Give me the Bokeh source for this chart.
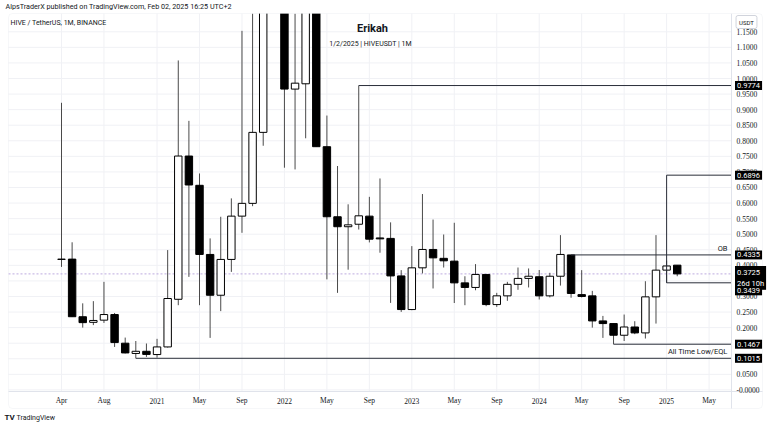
from bokeh.plotting import figure
from bokeh.models import Range1d, Label, LabelSet, BoxAnnotation, ColumnDataSource
from bokeh.embed import file_html
from bokeh.resources import INLINE

# ---------------- data (monthly candles, HIVE/USDT, Binance) ----------------
months = [
    "2020-04", "2020-05", "2020-06", "2020-07", "2020-08", "2020-09", "2020-10", "2020-11", "2020-12",
    "2021-01", "2021-02", "2021-03", "2021-04", "2021-05", "2021-06", "2021-07", "2021-08", "2021-09",
    "2021-10", "2021-11", "2021-12",
    "2022-01", "2022-02", "2022-03", "2022-04", "2022-05", "2022-06", "2022-07", "2022-08", "2022-09",
    "2022-10", "2022-11", "2022-12",
    "2023-01", "2023-02", "2023-03", "2023-04", "2023-05", "2023-06", "2023-07", "2023-08", "2023-09",
    "2023-10", "2023-11", "2023-12",
    "2024-01", "2024-02", "2024-03", "2024-04", "2024-05", "2024-06", "2024-07", "2024-08", "2024-09",
    "2024-10", "2024-11", "2024-12",
    "2025-01", "2025-02",
]
opens = [0.419, 0.420, 0.235, 0.217, 0.224, 0.242, 0.150, 0.117, 0.124,
         0.1135, 0.138, 0.291, 0.751, 0.657, 0.435, 0.304, 0.419, 0.558,
         0.599, 0.827, 1.95,
         1.75, 0.966, 0.983, 1.35, 0.781, 0.556, 0.524, 0.532, 0.558,
         0.488, 0.4865, 0.366,
         0.258, 0.392, 0.451, 0.4225, 0.4135, 0.3437, 0.329, 0.3707, 0.274,
         0.302, 0.339, 0.358,
         0.3634, 0.302, 0.365, 0.4335, 0.306, 0.302, 0.2215, 0.213, 0.1755,
         0.202, 0.183, 0.2988,
         0.3846, 0.4006]
highs = [0.922, 0.474, 0.278, 0.285, 0.347, 0.247, 0.168, 0.157, 0.149,
         0.164, 0.449, 1.058, 0.864, 0.695, 0.4865, 0.556, 0.615, 1.153,
         1.30, 3.40, 2.30,
         1.85, 1.30, 1.60, 1.50, 0.881, 0.719, 0.596, 0.9774, 0.620,
         0.679, 0.538, 0.3846,
         0.4617, 0.629, 0.547, 0.499, 0.5367, 0.365, 0.404, 0.372, 0.3116,
         0.347, 0.393, 0.390,
         0.385, 0.376, 0.497, 0.4335, 0.3846, 0.318, 0.2376, 0.213, 0.242,
         0.2206, 0.349, 0.497,
         0.415, 0.4006]
lows = [0.395, 0.234, 0.200, 0.208, 0.215, 0.138, 0.117, 0.1015, 0.106,
        0.1036, 0.136, 0.272, 0.363, 0.272, 0.167, 0.253, 0.379, 0.5045,
        0.590, 0.784, 1.35,
        0.7135, 0.708, 0.808, 0.781, 0.355, 0.3116, 0.386, 0.515, 0.4736,
        0.4405, 0.2794, 0.2505,
        0.256, 0.374, 0.3257, 0.393, 0.279, 0.272, 0.320, 0.2688, 0.2666,
        0.286, 0.3215, 0.329,
        0.2903, 0.297, 0.335, 0.296, 0.297, 0.200, 0.167, 0.1467, 0.157,
        0.179, 0.165, 0.213,
        0.3439, 0.365]
closes = [0.420, 0.235, 0.216, 0.223, 0.242, 0.152, 0.1187, 0.124, 0.114,
          0.138, 0.2935, 0.751, 0.658, 0.435, 0.304, 0.419, 0.558, 0.599,
          0.827, 1.95, 1.75,
          0.966, 0.985, 1.35, 0.781, 0.556, 0.524, 0.530, 0.559, 0.484,
          0.485, 0.366, 0.258,
          0.392, 0.451, 0.424, 0.4145, 0.3437, 0.329, 0.3707, 0.274, 0.302,
          0.339, 0.358, 0.365,
          0.302, 0.365, 0.435, 0.3097, 0.300, 0.2215, 0.213, 0.1755, 0.202,
          0.183, 0.2988, 0.3846,
          0.398, 0.3725]

tick_months = ["2020-04", "2020-08", "2021-01", "2021-05", "2021-09", "2022-01", "2022-05", "2022-09",
               "2023-01", "2023-05", "2023-09", "2024-01", "2024-05", "2024-09", "2025-01", "2025-05"]
tick_labels = ["Apr", "Aug", "2021", "May", "Sep", "2022", "May", "Sep",
               "2023", "May", "Sep", "2024", "May", "Sep", "2025", "May"]
price_ticks = [round(0.05 * k, 2) for k in range(0, 24)]

level_prices = [0.9774, 0.6896, 0.4335, 0.3439, 0.1467, 0.1015]
level_start = ["2022-08", "2025-01", "2024-04", "2025-01", "2024-08", "2020-11"]
bracket_month = "2025-01"
bracket_prices = [0.3439, 0.6896]
countdown = "26d 10h"

# ---------------- page geometry (pixels) ----------------
W, H = 768, 426
PANE_L, PANE_R, PANE_T, PANE_B = 8, 731, 13, 391     # price pane
BOX_R, BOX_B = 762, 408                                # outer chart box
BAR0_PX, BAR_PX = 61.0, 10.616                          # x of first bar, px per bar
ZERO_PX, UNIT_PX = 389.4, 311.4                         # y of price 0, px per 1.0


def px2x(px):
    return (px - BAR0_PX) / BAR_PX


def px2y(py):
    return (ZERO_PX - py) / UNIT_PX


def sy(py):  # screen units measured from bottom
    return H - py


def midx(m):
    y, mo = m.split("-")
    return (int(y) - 2020) * 12 + int(mo) - 4


XL, XR = px2x(PANE_L), px2x(PANE_R)
YB, YT = px2y(PANE_B), px2y(PANE_T)

# candles visible in the pane (the pane clips prices above its top edge)
vis = [i for i in range(len(months)) if lows[i] < YT]
src = ColumnDataSource(dict(
    x=[midx(months[i]) for i in vis],
    l=[lows[i] for i in vis],
    h=[min(highs[i], YT) for i in vis],
    top=[min(max(opens[i], closes[i]), YT + 0.01) for i in vis],
    bot=[min(opens[i], closes[i]) for i in vis],
    fill=["#ffffff" if closes[i] >= opens[i] else "#000000" for i in vis],
))

TXT = "#131722"
FONT = "Roboto"

p = figure(width=W, height=H, output_backend="svg", toolbar_location=None,
           x_range=Range1d(px2x(0), px2x(W)), y_range=Range1d(px2y(H), px2y(0)),
           x_axis_location=None, y_axis_location=None, min_border=0)
p.background_fill_color = "#ffffff"
p.border_fill_color = "#ffffff"
p.outline_line_color = None
p.xgrid.visible = False
p.ygrid.visible = False

# grid
tick_idx = [midx(m) for m in tick_months]
p.segment(x0=tick_idx, y0=[YB] * len(tick_idx), x1=tick_idx, y1=[YT] * len(tick_idx),
          line_color="#f0f1f5", line_width=1)
p.segment(x0=[XL] * len(price_ticks), y0=price_ticks, x1=[XR] * len(price_ticks), y1=price_ticks,
          line_color="#f0f1f5", line_width=1)

# current price line
p.segment(x0=[XL], y0=[closes[-1]], x1=[XR], y1=[closes[-1]],
          line_color="#b39ddb", line_alpha=0.85, line_width=1, line_dash="2 2")

# candles
p.segment(x0="x", y0="l", x1="x", y1="h", source=src, line_color="#4a4a4a", line_width=1)
p.vbar(x="x", width=0.7, top="top", bottom="bot", source=src,
       fill_color="fill", line_color="#000000", line_width=1)

# levels
p.segment(x0=[midx(m) for m in level_start], y0=level_prices,
          x1=[XR] * len(level_prices), y1=level_prices,
          line_color="#2a2e39", line_width=1)
p.segment(x0=[midx(bracket_month)], y0=[bracket_prices[0]],
          x1=[midx(bracket_month)], y1=[bracket_prices[1]],
          line_color="#2a2e39", line_width=1)

# mask above the price pane (header strip)
p.add_layout(BoxAnnotation(left=0, right=W, top=H, bottom=sy(PANE_T),
                           left_units="screen", right_units="screen",
                           top_units="screen", bottom_units="screen",
                           fill_color="#ffffff", fill_alpha=1.0, line_color=None))

# outer chart box and axis separators
p.add_layout(BoxAnnotation(left=PANE_L, right=BOX_R, top=sy(PANE_T), bottom=sy(BOX_B),
                           left_units="screen", right_units="screen",
                           top_units="screen", bottom_units="screen",
                           fill_alpha=0.0, line_color="#e0e3eb", line_width=1, border_radius=4))
p.segment(x0=[XR], y0=[px2y(PANE_T)], x1=[XR], y1=[px2y(BOX_B)], line_color="#e0e3eb", line_width=1)
p.segment(x0=[XL], y0=[YB], x1=[px2x(BOX_R)], y1=[YB], line_color="#e0e3eb", line_width=1)

# axis tick labels
ysrc = ColumnDataSource(dict(
    y=price_ticks,
    t=["-0.0000" if v == 0 else "%.4f" % v for v in price_ticks],
))
p.add_layout(LabelSet(x=736, y="y", x_units="screen", y_units="data", text="t", source=ysrc,
                      text_font=FONT, text_font_size="7.5px", text_color=TXT,
                      text_align="left", text_baseline="middle"))
xsrc = ColumnDataSource(dict(x=tick_idx, t=tick_labels))
p.add_layout(LabelSet(x="x", y=sy(400), x_units="data", y_units="screen", text="t", source=xsrc,
                      text_font=FONT, text_font_size="7.5px", text_color=TXT,
                      text_align="center", text_baseline="middle"))


def tag(price, text, yoff=0):
    p.add_layout(Label(x=734.5, y=price, x_units="screen", y_units="data", text=text,
                       text_font=FONT, text_font_size="7.5px", text_color="#ffffff",
                       text_baseline="middle", text_align="left", y_offset=yoff,
                       background_fill_color="#000000", padding=2))


def txt(x, y, text, size="7px", style="normal", align="left", color=TXT, baseline="middle",
        yu="screen", yoff=0):
    p.add_layout(Label(x=x, y=y, x_units="screen", y_units=yu, text=text, text_font=FONT,
                       text_font_size=size, text_font_style=style, text_color=color,
                       text_align=align, text_baseline=baseline, y_offset=yoff))


# annotations on chart
txt(PANE_R - 4, level_prices[2], "OB", size="7.5px", align="right", baseline="bottom", yu="data", yoff=2)
txt(PANE_R - 4, level_prices[5], "All Time Low/EQL", size="7.5px", align="right", baseline="bottom",
    yu="data", yoff=2)

# price tags (current price first so the 0.3439 tag sits on top of it)
tag(closes[-1], "%.4f\n%s" % (closes[-1], countdown), yoff=-4)
for pr in level_prices:
    if abs(pr - 0.3439) < 1e-6:
        tag(pr, "%.4f" % pr, yoff=-8)
    else:
        tag(pr, "%.4f" % pr)

# title block
txt(372, sy(28), "Erikah", size="11px", style="bold", align="center")
txt(370, sy(43), "1/2/2025 | HIVEUSDT | 1M", size="7px", align="center")

# legend
txt(10, sy(22), "HIVE / TetherUS, 1M, BINANCE", size="7px")

# header / footer
txt(5, sy(6), "AlpsTraderX published on TradingView.com, Feb 02, 2025 16:25 UTC+2", size="7.2px")
txt(4, sy(417), "TV", size="8px", style="bold")
txt(16, sy(417), "TradingView", size="7px")

# currency box
p.add_layout(Label(x=746, y=sy(21.5), x_units="screen", y_units="screen", text="USDT",
                   text_font=FONT, text_font_size="6px", text_color=TXT, text_align="center",
                   text_baseline="middle", background_fill_color="#ffffff",
                   border_line_color="#d1d4dc", padding=3, border_radius=2))

open("out.html", "w").write(file_html(p, INLINE))
